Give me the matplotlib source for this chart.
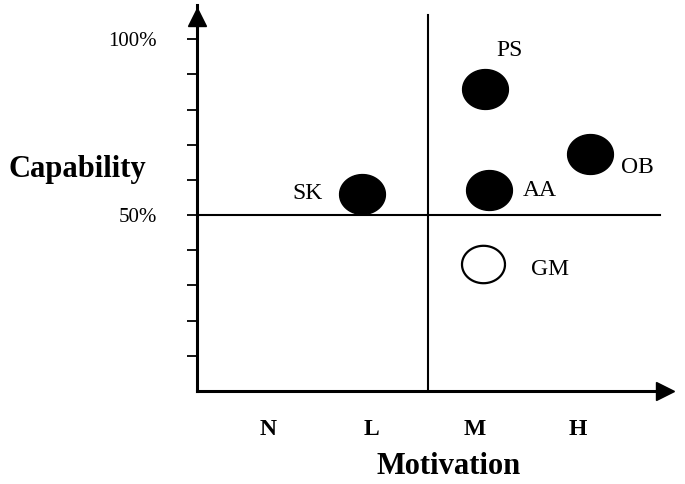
import numpy as np
import matplotlib.pyplot as plt

# motivation levels (x) and capability (%) (y)
levels = ['N', 'L', 'M', 'H']
level_pos = [1, 2, 3, 4]

names = ['PS', 'AA', 'OB', 'SK']
mot = [3.10, 3.14, 4.11, 1.91]
cap = [85.8, 57.1, 67.3, 56.0]

open_names = ['GM']
open_mot = [3.08]
open_cap = [36.1]

# label positions next to the dots
label_x = [3.34, 3.63, 4.57, 1.38, 3.73]
label_y = [96.9, 57.1, 63.4, 56.2, 34.4]

plt.rcParams['font.family'] = ['Liberation Serif', 'DejaVu Serif']

fig = plt.figure(figsize=(6.85, 4.84), dpi=100)
ax = fig.add_axes([197/685, 93/484, 470/685, 386/484])
xmin, xmax = 0.31, 4.86
ax.set_xlim(xmin, xmax)
ax.set_ylim(0, 109.7)

for s in ['top', 'right']:
    ax.spines[s].set_visible(False)
for s in ['left', 'bottom']:
    ax.spines[s].set_linewidth(2.2)
    ax.spines[s].set_color('black')

# arrow heads
ax.plot(4.84, 0, marker='>', color='k', ms=13, clip_on=False, zorder=4)
ax.plot(xmin, 106.3, marker='^', color='k', ms=13, clip_on=False, zorder=4)

# quadrant lines
ax.plot([xmin, 4.79], [50, 50], color='k', lw=1.5)
ax.plot([2.55, 2.55], [0, 106.8], color='k', lw=1.5)

# ellipse marker
t = np.linspace(0, 2 * np.pi, 60)
ell = np.column_stack([np.cos(t), 0.87 * np.sin(t)])

ax.scatter(mot, cap, s=1090, marker=ell, color='black', zorder=3)
ax.scatter(open_mot, open_cap, s=960, marker=ell, facecolor='white',
           edgecolor='black', linewidths=1.6, zorder=3)

for n, x, y in zip(names + open_names, label_x, label_y):
    ax.text(x, y, n, ha='center', va='center', fontsize=17)

ax.set_yticks(np.arange(10, 101, 10))
ax.set_yticklabels(['' if v not in (50, 100) else f'{v}%' for v in range(10, 101, 10)],
                   fontsize=15)
ax.tick_params(axis='y', direction='out', length=7, width=1.3, pad=22)

ax.set_xticks(level_pos)
ax.set_xticklabels(levels, fontsize=17, fontweight='bold')
ax.tick_params(axis='x', length=0, pad=20)

fig.text(77/685, 1 - 170/484, 'Capability', ha='center', va='center',
         fontsize=22, fontweight='bold')
fig.text(449/685, 1 - 467/484, 'Motivation', ha='center', va='center',
         fontsize=22, fontweight='bold')

fig.savefig('out.png', dpi=100)
